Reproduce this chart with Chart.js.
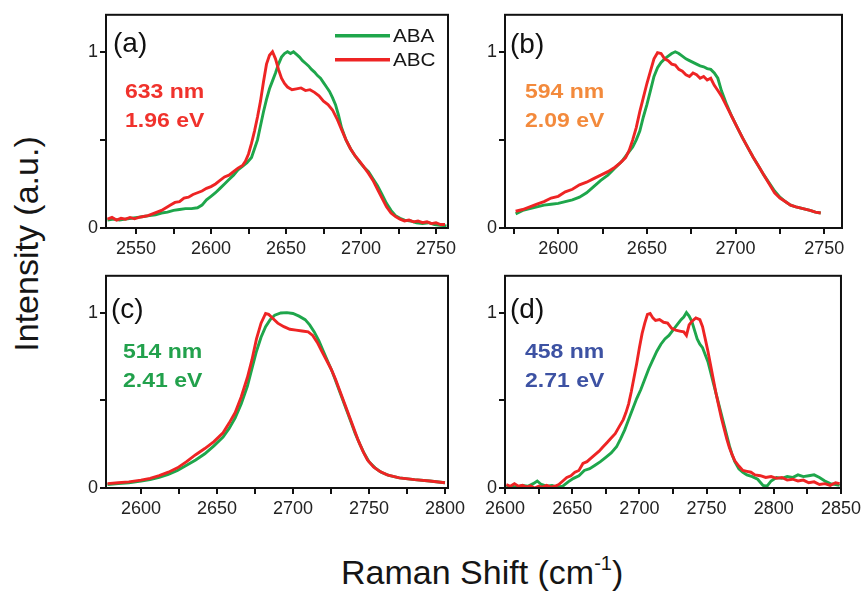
<!DOCTYPE html>
<html><head><meta charset="utf-8">
<script src="https://cdn.jsdelivr.net/npm/chart.js@4"></script>
<style>
html,body{margin:0;padding:0;background:#fff;width:867px;height:592px;overflow:hidden;position:relative;font-family:"Liberation Sans",Arial,sans-serif}
.pc{position:absolute}
.title{position:absolute;font-size:34px;line-height:34px;color:#151515;white-space:nowrap;transform-origin:50% 50%}
sup{font-size:20px;vertical-align:14px;line-height:0}
</style></head><body>
<div class="pc" id="wa"><canvas id="ca"></canvas></div>
<div class="pc" id="wb"><canvas id="cb"></canvas></div>
<div class="pc" id="wc"><canvas id="cc"></canvas></div>
<div class="pc" id="wd"><canvas id="cd"></canvas></div>
<div class="title" id="ytitle">Intensity (a.u.)</div>
<div class="title" id="xtitle">Raman Shift (cm<sup>-1</sup>)</div>
<script>
// ---------- data ----------
const seriesNames = ['ABA', 'ABC'];
const panelLetters = ['(a)', '(b)', '(c)', '(d)'];
const laserLines = [['633 nm', '1.96 eV'], ['594 nm', '2.09 eV'], ['514 nm', '2.41 eV'], ['458 nm', '2.71 eV']];
const xTicksA = [2550, 2600, 2650, 2700, 2750];
const xTicksB = [2600, 2650, 2700, 2750];
const xTicksC = [2600, 2650, 2700, 2750, 2800];
const xTicksD = [2600, 2650, 2700, 2750, 2800, 2850];
const yTicks = [0, 1];

// panel (a) 633 nm
const aAbaX = [2531,2535,2539,2543,2547,2551,2555,2559,2563,2567,2571,2575,2579,2583,2587,2591,2594,2597,2600,2603,2606,2609,2612,2615,2618,2621,2624,2627,2629,2631,2633,2635,2637,2639,2641,2643,2645,2647,2649,2651,2653,2655,2657,2659,2661,2663,2665,2667,2669,2671,2673,2675,2677,2679,2681,2683,2685,2687,2690,2693,2696,2699,2702,2705,2708,2711,2714,2717,2720,2723,2726,2729,2733,2737,2741,2745,2749,2753,2757];
const aAbaY = [0.045,0.05,0.045,0.05,0.055,0.06,0.065,0.07,0.075,0.085,0.09,0.1,0.105,0.11,0.11,0.115,0.13,0.16,0.18,0.2,0.225,0.25,0.275,0.3,0.33,0.35,0.37,0.4,0.45,0.5,0.58,0.66,0.73,0.79,0.835,0.88,0.93,0.97,0.99,1.0,0.99,1.0,0.985,0.97,0.95,0.935,0.92,0.9,0.885,0.865,0.85,0.825,0.8,0.775,0.74,0.7,0.64,0.57,0.5,0.45,0.41,0.375,0.345,0.32,0.28,0.24,0.19,0.14,0.1,0.07,0.055,0.045,0.04,0.03,0.025,0.03,0.02,0.015,0.012];
const aAbcX = [2531,2534,2537,2540,2543,2546,2549,2552,2555,2558,2561,2564,2567,2570,2573,2576,2579,2582,2585,2588,2591,2594,2597,2600,2603,2606,2609,2612,2615,2618,2621,2623,2625,2627,2629,2631,2633,2635,2637,2639,2641,2643,2645,2647,2649,2651,2654,2657,2660,2663,2666,2669,2672,2675,2678,2681,2684,2687,2690,2693,2696,2699,2702,2705,2708,2711,2714,2717,2720,2723,2726,2729,2732,2735,2738,2741,2744,2747,2750,2753,2756];
const aAbcY = [0.05,0.06,0.045,0.055,0.05,0.06,0.052,0.06,0.065,0.07,0.08,0.09,0.1,0.115,0.13,0.145,0.15,0.17,0.175,0.19,0.2,0.21,0.225,0.235,0.25,0.27,0.29,0.3,0.32,0.34,0.355,0.38,0.42,0.48,0.55,0.63,0.72,0.83,0.93,0.98,1.0,0.96,0.9,0.85,0.82,0.8,0.785,0.79,0.795,0.78,0.785,0.77,0.75,0.72,0.7,0.67,0.62,0.56,0.5,0.45,0.41,0.38,0.345,0.31,0.27,0.22,0.17,0.12,0.085,0.065,0.05,0.04,0.045,0.035,0.04,0.03,0.035,0.025,0.03,0.02,0.02];

// panel (b) 594 nm
const bAbaX = [2576,2580,2584,2588,2592,2596,2600,2604,2608,2612,2616,2620,2624,2628,2632,2636,2639,2642,2644,2646,2648,2650,2652,2654,2656,2658,2660,2662,2664,2666,2668,2670,2672,2674,2676,2678,2680,2682,2684,2686,2688,2690,2692,2695,2698,2701,2704,2707,2710,2713,2716,2719,2722,2725,2728,2731,2734,2738,2742,2745,2748];
const bAbaY = [0.08,0.1,0.11,0.12,0.13,0.135,0.14,0.15,0.16,0.175,0.2,0.235,0.27,0.3,0.34,0.38,0.42,0.46,0.5,0.55,0.63,0.7,0.78,0.86,0.91,0.94,0.96,0.975,0.99,1.0,0.99,0.975,0.96,0.95,0.94,0.93,0.92,0.915,0.905,0.9,0.88,0.85,0.78,0.7,0.63,0.57,0.51,0.455,0.4,0.35,0.3,0.255,0.21,0.175,0.15,0.13,0.12,0.11,0.1,0.09,0.085];
const bAbcX = [2576,2580,2584,2588,2592,2596,2600,2604,2608,2612,2616,2620,2624,2628,2632,2635,2638,2640,2642,2644,2646,2648,2650,2652,2654,2656,2658,2660,2662,2664,2666,2668,2670,2672,2674,2676,2678,2680,2682,2684,2686,2688,2690,2692,2695,2698,2701,2704,2707,2710,2713,2716,2719,2722,2725,2728,2731,2734,2738,2742,2745,2748];
const bAbcY = [0.095,0.105,0.12,0.135,0.15,0.17,0.18,0.205,0.22,0.245,0.26,0.28,0.3,0.32,0.345,0.37,0.4,0.44,0.5,0.57,0.66,0.74,0.82,0.89,0.96,0.995,0.99,0.96,0.95,0.93,0.925,0.9,0.89,0.87,0.86,0.88,0.87,0.85,0.86,0.84,0.85,0.81,0.78,0.75,0.69,0.63,0.57,0.51,0.455,0.4,0.35,0.3,0.25,0.2,0.17,0.15,0.13,0.12,0.11,0.1,0.09,0.085];

// panel (c) 514 nm
const cAbaX = [2578,2585,2592,2600,2606,2612,2618,2624,2630,2636,2642,2648,2654,2658,2662,2666,2670,2673,2676,2679,2682,2685,2688,2692,2696,2700,2704,2708,2711,2714,2717,2720,2723,2726,2729,2732,2735,2738,2741,2744,2747,2750,2754,2758,2763,2770,2780,2790,2800];
const cAbaY = [0.02,0.025,0.03,0.04,0.048,0.06,0.078,0.1,0.13,0.16,0.195,0.24,0.29,0.34,0.4,0.48,0.58,0.68,0.78,0.86,0.92,0.96,0.985,0.998,1.0,0.995,0.98,0.96,0.93,0.89,0.84,0.78,0.72,0.66,0.59,0.52,0.45,0.38,0.31,0.25,0.195,0.15,0.115,0.09,0.072,0.058,0.048,0.04,0.03];
const cAbcX = [2578,2585,2592,2600,2606,2612,2618,2624,2630,2636,2642,2648,2654,2658,2662,2666,2670,2673,2676,2679,2682,2684,2687,2690,2694,2698,2702,2706,2710,2713,2716,2719,2722,2725,2728,2731,2734,2737,2740,2743,2746,2749,2753,2757,2762,2770,2780,2790,2800];
const cAbcY = [0.025,0.03,0.035,0.045,0.055,0.07,0.09,0.115,0.15,0.19,0.225,0.265,0.315,0.37,0.43,0.52,0.63,0.73,0.85,0.94,0.995,0.99,0.965,0.94,0.92,0.905,0.9,0.895,0.89,0.87,0.83,0.78,0.73,0.68,0.62,0.55,0.48,0.41,0.34,0.27,0.21,0.16,0.12,0.095,0.075,0.058,0.048,0.04,0.03];

// panel (d) 458 nm
const dAbaX = [2601,2605,2609,2613,2617,2621,2624,2627,2631,2635,2639,2643,2647,2651,2655,2659,2663,2667,2671,2675,2679,2683,2686,2689,2692,2695,2698,2701,2704,2707,2710,2713,2716,2719,2722,2725,2728,2731,2733,2735,2737,2739,2741,2743,2745,2747,2749,2751,2753,2755,2757,2759,2761,2763,2765,2767,2769,2771,2774,2777,2780,2784,2788,2792,2795,2798,2802,2806,2810,2814,2818,2822,2826,2830,2834,2838,2842,2846,2849];
const dAbaY = [0.005,0.01,0.005,0.015,0.01,0.025,0.04,0.02,0.01,0.015,0.005,0.01,0.035,0.055,0.07,0.1,0.11,0.13,0.15,0.175,0.2,0.235,0.28,0.33,0.39,0.45,0.51,0.56,0.62,0.68,0.73,0.78,0.82,0.85,0.87,0.9,0.93,0.96,0.975,1.0,0.98,0.95,0.9,0.85,0.82,0.8,0.76,0.72,0.66,0.6,0.54,0.48,0.42,0.36,0.3,0.24,0.19,0.15,0.11,0.09,0.075,0.065,0.05,0.015,0.01,0.04,0.06,0.055,0.065,0.06,0.075,0.065,0.07,0.075,0.06,0.04,0.025,0.02,0.015];
const dAbcX = [2601,2604,2607,2610,2613,2616,2619,2622,2625,2628,2631,2634,2637,2640,2643,2646,2649,2652,2655,2658,2661,2664,2667,2670,2673,2676,2679,2682,2685,2688,2690,2692,2694,2696,2698,2700,2702,2704,2706,2708,2710,2712,2715,2718,2721,2724,2727,2730,2733,2735,2737,2739,2742,2745,2747,2749,2751,2753,2755,2757,2759,2761,2763,2765,2767,2769,2771,2774,2777,2780,2783,2786,2790,2794,2798,2802,2806,2810,2814,2818,2822,2826,2830,2834,2838,2842,2846,2849];
const dAbcY = [0.02,0.01,0.025,0.01,0.015,0.005,0.012,0.0,0.01,0.005,0.015,0.005,0.01,0.02,0.04,0.06,0.07,0.09,0.1,0.14,0.15,0.17,0.19,0.21,0.235,0.26,0.285,0.31,0.35,0.39,0.43,0.48,0.55,0.63,0.71,0.8,0.88,0.94,0.99,0.995,0.97,0.955,0.96,0.945,0.94,0.91,0.9,0.895,0.89,0.87,0.93,0.95,0.97,0.96,0.92,0.85,0.78,0.7,0.62,0.54,0.47,0.4,0.34,0.28,0.23,0.19,0.155,0.125,0.1,0.095,0.09,0.075,0.07,0.06,0.065,0.055,0.06,0.045,0.05,0.04,0.045,0.03,0.035,0.02,0.025,0.015,0.03,0.025];

// ---------- styling / layout ----------
const GREEN = '#1ea64b';
const RED = '#ee2424';
const labelColors = ['#f0322c', '#f38a3c', '#22a14c', '#3d52a3'];
const FONT = '"Liberation Sans", Arial, sans-serif';
const panels = [
  {cv:'ca', wrap:'wa', box:[106,14,448,228], xr:[2530,2758], ticks:xTicksA, aba:[aAbaX,aAbaY], abc:[aAbcX,aAbcY], lab:[7,37], ann:[19,83], legend:true},
  {cv:'cb', wrap:'wb', box:[505,14,842,228], xr:[2570,2760], ticks:xTicksB, aba:[bAbaX,bAbaY], abc:[bAbcX,bAbcY], lab:[5,38], ann:[20,83], legend:false},
  {cv:'cc', wrap:'wc', box:[106,275,448,488], xr:[2577,2802], ticks:xTicksC, aba:[cAbaX,cAbaY], abc:[cAbcX,cAbcY], lab:[5,42], ann:[17,82], legend:false},
  {cv:'cd', wrap:'wd', box:[505,275,843,488], xr:[2600,2850], ticks:xTicksD, aba:[dAbaX,dAbaY], abc:[dAbcX,dAbcY], lab:[5,42], ann:[20,82], legend:false}
];
const PADL = 60, PADT = 12, PADR = 22, PADB = 45;

function pts(xs, ys){ return xs.map((x,i)=>({x:x, y:ys[i]})); }

panels.forEach((p, idx) => {
  const [l,t,r,b] = p.box;
  const W = (r-l) + PADL + PADR, H = (b-t) + PADT + PADB;
  const wrap = document.getElementById(p.wrap);
  wrap.style.left = (l-PADL)+'px'; wrap.style.top = (t-PADT)+'px';
  wrap.style.width = W+'px'; wrap.style.height = H+'px';
  const cv = document.getElementById(p.cv);
  cv.width = W; cv.height = H; cv.style.width = W+'px'; cv.style.height = H+'px';

  const majors = p.ticks;
  const allTicks = [];
  for (let i=0;i<majors.length;i++){
    allTicks.push(majors[i]);
    if (i<majors.length-1) allTicks.push((majors[i]+majors[i+1])/2);
  }
  const m0 = majors[0]-(majors[1]-majors[0])/2; if (m0>p.xr[0]) allTicks.unshift(m0);
  const mN = majors[majors.length-1]+(majors[1]-majors[0])/2; if (mN<p.xr[1]) allTicks.push(mN);

  const framePlugin = {
    id:'frame',
    afterDatasetsDraw(chart){
      const a = chart.chartArea, ctx = chart.ctx;
      ctx.save(); ctx.strokeStyle = '#111'; ctx.lineWidth = 2;
      ctx.strokeRect(a.left, a.top, a.right-a.left, a.bottom-a.top);
      ctx.restore();
    },
    afterDraw(chart){
      const a = chart.chartArea, ctx = chart.ctx;
      ctx.save();
      ctx.fillStyle = '#111'; ctx.textBaseline = 'alphabetic';
      ctx.font = '28px ' + FONT;
      ctx.fillText(panelLetters[idx], a.left + p.lab[0], a.top + p.lab[1]);
      ctx.fillStyle = labelColors[idx];
      ctx.font = 'bold 20px ' + FONT;
      laserLines[idx].forEach((s, k) => {
        ctx.save();
        ctx.translate(a.left + p.ann[0], a.top + p.ann[1] + k*29);
        ctx.scale(1.15, 1);
        ctx.fillText(s, 0, 0);
        ctx.restore();
      });
      if (p.legend) {
        const cols = [GREEN, RED];
        seriesNames.forEach((n, k) => {
          const y = a.top + 21 + k*24;
          ctx.strokeStyle = cols[k]; ctx.lineWidth = 3.5;
          ctx.beginPath(); ctx.moveTo(a.left+229, y); ctx.lineTo(a.left+284, y); ctx.stroke();
          ctx.save();
          ctx.fillStyle = '#151515'; ctx.font = '18px ' + FONT;
          ctx.translate(a.left+287, y+6.5); ctx.scale(1.15,1);
          ctx.fillText(n, 0, 0);
          ctx.restore();
        });
      }
      ctx.restore();
    }
  };

  new Chart(cv, {
    type:'line',
    data:{ datasets:[
      {label:seriesNames[0], data:pts(p.aba[0], p.aba[1]), borderColor:GREEN, borderWidth:2.9, pointRadius:0, tension:0, order:1},
      {label:seriesNames[1], data:pts(p.abc[0], p.abc[1]), borderColor:RED, borderWidth:2.9, pointRadius:0, tension:0, order:0}
    ]},
    options:{
      responsive:false, animation:false, devicePixelRatio:1,
      layout:{padding:{left:0, top:PADT, right:PADR, bottom:0}},
      plugins:{legend:{display:false}, tooltip:{enabled:false}},
      scales:{
        x:{type:'linear', position:'bottom', min:p.xr[0], max:p.xr[1],
          afterFit(s){ s.height = PADB; },
          afterBuildTicks(s){ s.ticks = allTicks.map(v=>({value:v})); },
          grid:{drawOnChartArea:false, drawTicks:true, tickLength:6, color:'#111', lineWidth:2},
          border:{display:false},
          ticks:{autoSkip:false, maxRotation:0, padding:4, color:'#222', font:{family:FONT, size:18},
            callback:(v)=> majors.includes(v) ? String(v) : ''}
        },
        y:{type:'linear', min:0, max:1.21,
          afterFit(s){ s.width = PADL; },
          afterBuildTicks(s){ s.ticks = [0,0.5,1].map(v=>({value:v})); },
          grid:{drawOnChartArea:false, drawTicks:true, tickLength:6, color:'#111', lineWidth:2},
          border:{display:false},
          ticks:{padding:2, color:'#222', font:{family:FONT, size:18},
            callback:(v)=> yTicks.includes(v) ? String(v) : ''}
        }
      }
    },
    plugins:[framePlugin]
  });
});

// axis titles
const yt = document.getElementById('ytitle');
yt.style.left = (25.5 - yt.offsetWidth/2)+'px';
yt.style.top = (244 - yt.offsetHeight/2)+'px';
yt.style.transform = 'rotate(-90deg)';
const xt = document.getElementById('xtitle');
xt.style.left = (482 - xt.offsetWidth/2)+'px';
xt.style.top = (572 - xt.offsetHeight/2)+'px';
</script>
</body></html>
